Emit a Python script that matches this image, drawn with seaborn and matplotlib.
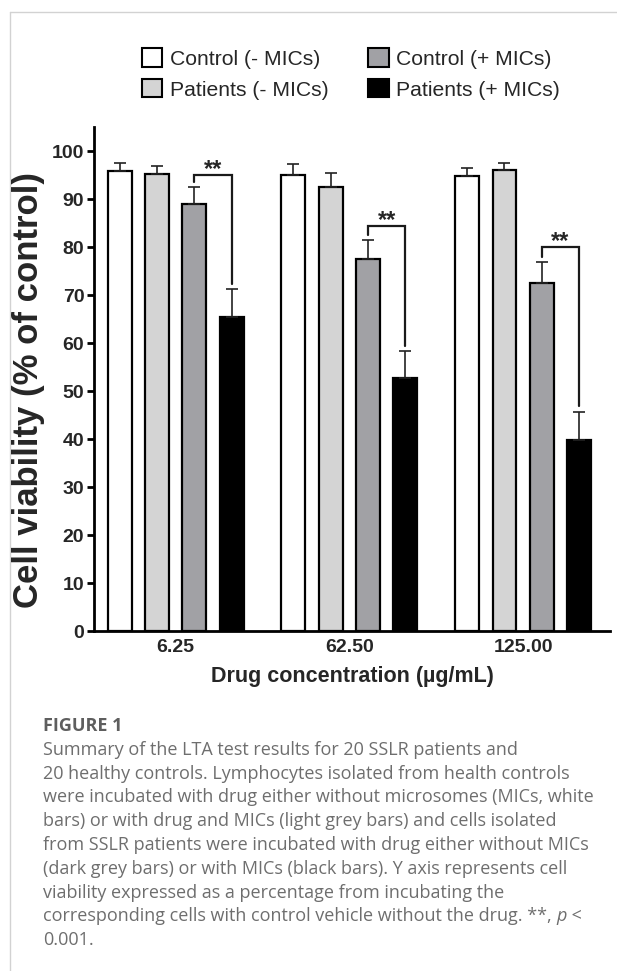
import numpy as np
import pandas as pd
import matplotlib
matplotlib.use("Agg")
import matplotlib.pyplot as plt
import seaborn as sns
from matplotlib.patches import Patch
from matplotlib.lines import Line2D

# ---------------- data ----------------
concentrations = ["6.25", "62.50", "125.00"]
groups = ["Control (- MICs)", "Patients (- MICs)", "Control (+ MICs)", "Patients (+ MICs)"]
group_colors = ["#ffffff", "#d4d4d4", "#a1a1a5", "#000000"]

control_minus = [95.8, 95.0, 94.8]
patients_minus = [95.2, 92.4, 96.1]
control_plus = [88.9, 77.6, 72.4]
patients_plus = [65.5, 52.7, 39.8]

err_control_minus = [1.6, 2.3, 1.7]
err_patients_minus = [1.7, 3.0, 1.5]
err_control_plus = [3.5, 3.9, 4.4]
err_patients_plus = [5.7, 5.6, 5.9]

sig_heights = [95.0, 84.4, 80.1]
sig_labels = ["**", "**", "**"]

y_ticks = [0, 10, 20, 30, 40, 50, 60, 70, 80, 90, 100]

caption_title = "FIGURE 1"
caption_lines = [
    "Summary of the LTA test results for 20 SSLR patients and",
    "20 healthy controls. Lymphocytes isolated from health controls",
    "were incubated with drug either without microsomes (MICs, white",
    "bars) or with drug and MICs (light grey bars) and cells isolated",
    "from SSLR patients were incubated with drug either without MICs",
    "(dark grey bars) or with MICs (black bars). Y axis represents cell",
    "viability expressed as a percentage from incubating the",
]
caption_last_parts = ["corresponding cells with control vehicle without the drug. **, ", "p", " <"]
caption_final = "0.001."

values = [control_minus, patients_minus, control_plus, patients_plus]
errors = [err_control_minus, err_patients_minus, err_control_plus, err_patients_plus]

df = pd.DataFrame({
    "conc": [c for g in groups for c in concentrations],
    "group": [g for g in groups for c in concentrations],
    "viability": [v for vals in values for v in vals],
})

# ---------------- style ----------------
sns.set_style("ticks")
plt.rcParams["font.family"] = ["Liberation Sans", "DejaVu Sans"]

W, H = 617, 971
fig = plt.figure(figsize=(W / 100, H / 100), dpi=100)

def fx(x):
    return x / W

def fy(y):
    return 1 - y / H

# page border lines
fig.add_artist(Line2D([fx(10), 1], [fy(12), fy(12)], color="#d2d2d2", lw=1.0))
fig.add_artist(Line2D([fx(10), fx(10)], [fy(12), 0], color="#d2d2d2", lw=1.0))

ax_left, ax_right, ax_top, ax_bottom = 94, 610, 127, 631
ax = fig.add_axes([fx(ax_left), fy(ax_bottom), (ax_right - ax_left) / W, (ax_bottom - ax_top) / H])

palette = dict(zip(groups, group_colors))
sns.barplot(data=df, x="conc", y="viability", hue="group", hue_order=groups,
            order=concentrations, palette=palette, width=0.86, gap=0.36,
            edgecolor="black", linewidth=1.6, errorbar=None, legend=False,
            saturation=1, ax=ax)

# error bars (upper only) and collect bar centres
bar_containers = list(ax.containers)
centers = {}
for gi, cont in enumerate(bar_containers):
    xs = [b.get_x() + b.get_width() / 2 for b in cont]
    hs = [b.get_height() for b in cont]
    centers[gi] = (xs, hs)
    ax.errorbar(xs, hs, yerr=[np.zeros(len(xs)), errors[gi]], fmt="none",
                ecolor="#222222", elinewidth=1.2, capsize=4.5, capthick=1.2, zorder=1)

# significance brackets between Control (+) and Patients (+)
gap = 1.1
for ci in range(len(concentrations)):
    x1 = centers[2][0][ci]
    x2 = centers[3][0][ci]
    top1 = control_plus[ci] + err_control_plus[ci] + gap
    top2 = patients_plus[ci] + err_patients_plus[ci] + gap
    h = sig_heights[ci]
    ax.plot([x1, x1, x2, x2], [top1, h, h, top2], color="#1a1a1a", lw=1.6,
            solid_joinstyle="miter", clip_on=False)
    ax.text((x1 + x2) / 2, h - 0.3, sig_labels[ci], ha="center", va="baseline",
            fontsize=17, fontweight="bold")

ax.set_xlim(-0.47, 2.5)
ax.set_ylim(0, 105)
ax.set_yticks(y_ticks)
ax.set_xlabel("")
ax.set_ylabel("")
for s in ["top", "right"]:
    ax.spines[s].set_visible(False)
for s in ["left", "bottom"]:
    ax.spines[s].set_linewidth(2.0)
    ax.spines[s].set_color("black")
ax.tick_params(axis="y", length=5, width=2.0, labelsize=14, pad=2, color="black")
ax.tick_params(axis="x", length=0, labelsize=14, pad=6)
for lab in ax.get_yticklabels() + ax.get_xticklabels():
    lab.set_fontweight("bold")

fig.text(fx(29), fy(390), "Cell viability (% of control)", rotation=90,
         ha="center", va="center", fontsize=25, fontweight="bold")
fig.text(fx(352), fy(676), "Drug concentration (\u00b5g/mL)", ha="center", va="center",
         fontsize=15.5, fontweight="bold")

handles = [Patch(facecolor=c, edgecolor="black", linewidth=1.5) for c in group_colors]
fig.legend(handles, groups, ncol=2, loc="center", bbox_to_anchor=(fx(351), fy(74)),
           frameon=False, fontsize=15.2, handlelength=0.95, handleheight=0.95,
           handletextpad=0.35, columnspacing=1.9, labelspacing=0.5, borderaxespad=0)

# caption
cap_font = ["Open Sans", "DejaVu Sans"]
cap_x = fx(43)
cap_color = "#6e6e6e"
cap_size = 13.0
fig.text(cap_x, fy(726), caption_title, ha="left", va="center", fontsize=cap_size,
         fontweight="bold", color="#5e5e5e", family=cap_font)
line_h = 23.75
y0 = 750
for i, line in enumerate(caption_lines):
    fig.text(cap_x, fy(y0 + i * line_h), line, ha="left", va="center", fontsize=cap_size,
             color=cap_color, family=cap_font)
yl = y0 + len(caption_lines) * line_h
renderer = fig.canvas.get_renderer()
xcur = cap_x
for j, part in enumerate(caption_last_parts):
    t = fig.text(xcur, fy(yl), part, ha="left", va="center", fontsize=cap_size,
                 color=cap_color, family=cap_font, style="italic" if part == "p" else "normal")
    bb = t.get_window_extent(renderer=renderer)
    xcur = xcur + bb.width / W
fig.text(cap_x, fy(yl + line_h), caption_final, ha="left", va="center", fontsize=cap_size,
         color=cap_color, family=cap_font)

fig.savefig("out.png", dpi=100)
